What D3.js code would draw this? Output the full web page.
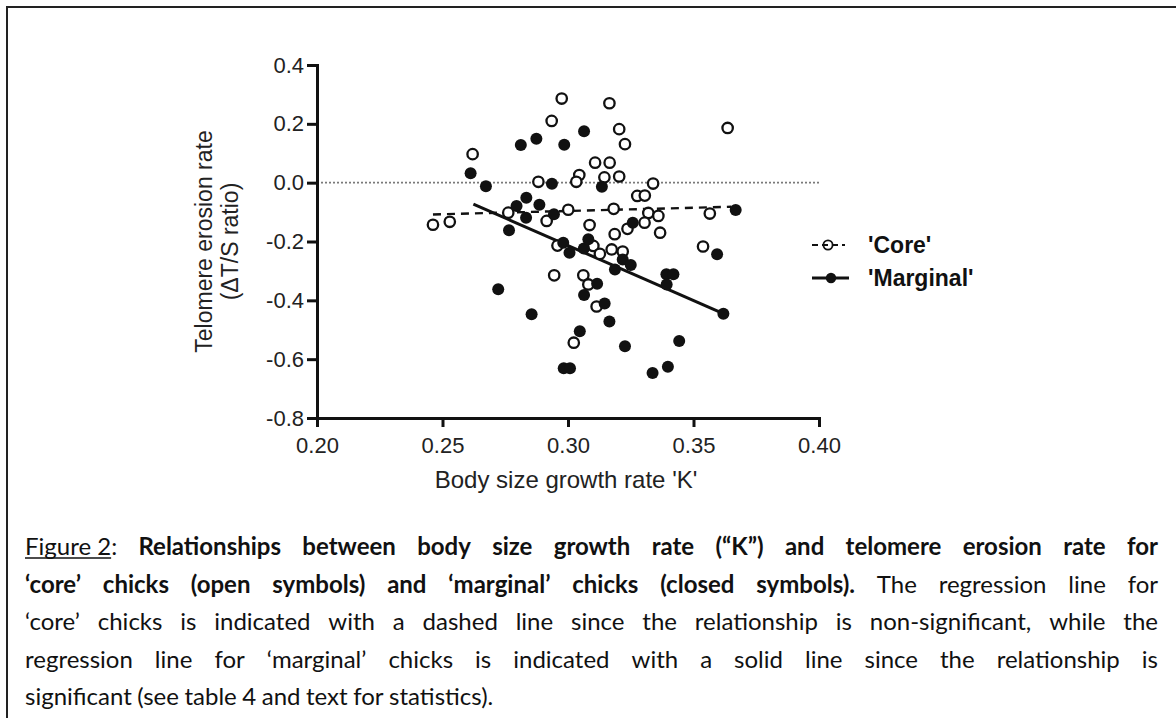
<!DOCTYPE html>
<html>
<head>
<meta charset="utf-8">
<script src="https://cdn.jsdelivr.net/npm/d3@7"></script>
<style>
  html, body { margin: 0; padding: 0; background: #fff; }
  svg { display: block; }
</style>
</head>
<body>
<svg id="fig" width="1176" height="718"></svg>
<script>
// Body size growth rate K and telomere erosion rate (ΔT/S ratio) per chick
const coreK = [0.2975, 0.2935, 0.3165, 0.3204, 0.3227, 0.3636, 0.2620, 0.3108, 0.3166, 0.3045,
  0.3033, 0.3145, 0.3204, 0.2882, 0.3339, 0.3276, 0.3306, 0.2462, 0.2529, 0.2762,
  0.2915, 0.3001, 0.3182, 0.3565, 0.3320, 0.3360, 0.3305, 0.3086, 0.3237, 0.3186,
  0.3367, 0.3538, 0.2958, 0.3101, 0.3127, 0.3174, 0.3218, 0.2945, 0.3061, 0.3081,
  0.3114, 0.3023];
const coreTS = [0.286, 0.210, 0.270, 0.182, 0.131, 0.186, 0.097, 0.068, 0.068, 0.026,
  0.003, 0.018, 0.021, 0.003, -0.003, -0.045, -0.044, -0.143, -0.133, -0.102,
  -0.130, -0.092, -0.089, -0.105, -0.103, -0.113, -0.136, -0.144, -0.157, -0.175,
  -0.170, -0.217, -0.214, -0.215, -0.242, -0.227, -0.234, -0.315, -0.315, -0.346,
  -0.421, -0.544];

const marginalK = [0.3064, 0.2874, 0.2812, 0.2985, 0.2612, 0.2673, 0.2936, 0.3135, 0.2834, 0.2795,
  0.2886, 0.2833, 0.2944, 0.2765, 0.2981, 0.3668, 0.3258, 0.3594, 0.3006, 0.3063,
  0.3081, 0.3187, 0.3218, 0.3250, 0.3392, 0.3420, 0.3393, 0.3116, 0.3064, 0.3146,
  0.2722, 0.2855, 0.3165, 0.3047, 0.3227, 0.3443, 0.2983, 0.3008, 0.3337, 0.3398,
  0.3619];
const marginalTS = [0.175, 0.149, 0.128, 0.129, 0.032, -0.012, -0.004, -0.014, -0.051, -0.079,
  -0.075, -0.119, -0.107, -0.162, -0.204, -0.093, -0.136, -0.243, -0.238, -0.224,
  -0.192, -0.295, -0.261, -0.280, -0.311, -0.311, -0.346, -0.344, -0.382, -0.411,
  -0.362, -0.447, -0.472, -0.505, -0.556, -0.538, -0.631, -0.631, -0.647, -0.626,
  -0.446];

// Regression lines, given by their end points
const coreFitK = [0.2462, 0.3650];
const coreFitTS = [-0.108, -0.082];
const marginalFitK = [0.2623, 0.3619];
const marginalFitTS = [-0.073, -0.445];

const xTicks = [0.20, 0.25, 0.30, 0.35, 0.40];
const yTicks = [0.4, 0.2, 0.0, -0.2, -0.4, -0.6, -0.8];
const seriesNames = ["'Core'", "'Marginal'"];
const xTitle = "Body size growth rate 'K'";
const yTitleLines = ["Telomere erosion rate", "(\u0394T/S ratio)"];

// Caption: each line is a list of [style, text] runs (u = underlined, b = bold, n = normal)
const captionLines = [
  [["u", "Figure 2"], ["n", ": "], ["b", "Relationships between body size growth rate (\u201cK\u201d) and telomere erosion rate for"]],
  [["b", "\u2018core\u2019 chicks (open symbols) and \u2018marginal\u2019 chicks (closed symbols)."], ["n", " The regression line for"]],
  [["n", "\u2018core\u2019 chicks is indicated with a dashed line since the relationship is non-significant, while the"]],
  [["n", "regression line for \u2018marginal\u2019 chicks is indicated with a solid line since the relationship is"]],
  [["n", "significant (see table 4 and text for statistics)."]]
];

const svg = d3.select("#fig");
const chartFont = "'Liberation Sans', Arial, Helvetica, sans-serif";
const ink = "#111";

// page frame (top and left rule)
svg.append("path")
  .attr("d", "M7,718V7H1176")
  .attr("fill", "none").attr("stroke", "#222").attr("stroke-width", 2);

const x = d3.scaleLinear().domain([0.2, 0.4]).range([317, 819]);
const y = d3.scaleLinear().domain([-0.8, 0.4]).range([418, 65]);

// zero reference line
svg.append("line")
  .attr("x1", x(0.2)).attr("x2", x(0.4))
  .attr("y1", y(0)).attr("y2", y(0))
  .attr("stroke", "#7a7a7a").attr("stroke-width", 1.6)
  .attr("stroke-dasharray", "2,2");

// axes
const gx = svg.append("g")
  .attr("transform", `translate(0,${y(-0.8)})`)
  .call(d3.axisBottom(x).tickValues(xTicks).tickFormat(d => d.toFixed(2))
    .tickSize(9).tickSizeOuter(0).tickPadding(10));
const gy = svg.append("g")
  .attr("transform", `translate(${x(0.2)},0)`)
  .call(d3.axisLeft(y).tickValues(yTicks).tickFormat(d => d.toFixed(1))
    .tickSize(10).tickSizeOuter(0).tickPadding(3));
[gx, gy].forEach(g => {
  g.attr("font-family", chartFont).attr("font-size", 22).attr("color", ink);
  g.select(".domain").attr("stroke-width", 3).attr("stroke-linecap", "square");
  g.selectAll(".tick line").attr("stroke-width", 3);
  g.selectAll(".tick text").attr("fill", "#222");
});

// axis titles
svg.append("text")
  .attr("x", (x(0.2) + x(0.4)) / 2 - 2).attr("y", 488)
  .attr("text-anchor", "middle")
  .attr("font-family", chartFont).attr("font-size", 24).attr("fill", "#222")
  .text(xTitle);
const yTitle = svg.append("text")
  .attr("transform", `translate(212,${(y(0.4) + y(-0.8)) / 2}) rotate(-90)`)
  .attr("text-anchor", "middle")
  .attr("font-family", chartFont).attr("font-size", 23).attr("fill", "#222");
yTitleLines.forEach((t, i) => {
  yTitle.append("tspan").attr("x", 0).attr("dy", i === 0 ? 0 : 26).text(t);
});

// regression lines
const fitLine = d3.line().x(d => x(d[0])).y(d => y(d[1]));
svg.append("path")
  .attr("d", fitLine(d3.zip(coreFitK, coreFitTS)))
  .attr("fill", "none").attr("stroke", ink).attr("stroke-width", 2.4)
  .attr("stroke-dasharray", "8,6");
svg.append("path")
  .attr("d", fitLine(d3.zip(marginalFitK, marginalFitTS)))
  .attr("fill", "none").attr("stroke", ink).attr("stroke-width", 3);

// points: open circles for core, filled for marginal
svg.append("g").selectAll("circle")
  .data(d3.zip(coreK, coreTS))
  .join("circle")
  .attr("cx", d => x(d[0])).attr("cy", d => y(d[1]))
  .attr("r", 5.2)
  .attr("fill", "#fff").attr("stroke", ink).attr("stroke-width", 2.3);
svg.append("g").selectAll("circle")
  .data(d3.zip(marginalK, marginalTS))
  .join("circle")
  .attr("cx", d => x(d[0])).attr("cy", d => y(d[1]))
  .attr("r", 6)
  .attr("fill", ink);

// legend
const legend = svg.append("g").attr("font-family", chartFont).attr("font-weight", "bold")
  .attr("font-size", 23).attr("fill", ink);
const legendRows = [
  { name: seriesNames[0], cy: 245, dash: "6,4", open: true },
  { name: seriesNames[1], cy: 278, dash: null, open: false }
];
legendRows.forEach(r => {
  legend.append("line")
    .attr("x1", 812).attr("x2", r.open ? 845 : 849)
    .attr("y1", r.cy).attr("y2", r.cy)
    .attr("stroke", ink).attr("stroke-width", r.open ? 2 : 3)
    .attr("stroke-dasharray", r.dash);
  legend.append("circle")
    .attr("cx", r.open ? 828 : 831).attr("cy", r.cy)
    .attr("r", r.open ? 4.6 : 5.2)
    .attr("fill", r.open ? "none" : ink)
    .attr("stroke", ink).attr("stroke-width", r.open ? 1.8 : 0);
  legend.append("text")
    .attr("x", 868).attr("y", r.cy + 8)
    .text(r.name);
});

// caption, justified between the margins
const capFont = "Lato, 'Open Sans', sans-serif";
const capSize = 24;
const capLeft = 25, capRight = 1158;
const capTop = 555, capStep = 37.5;

function tokenize(runs) {
  const tokens = [];
  let cur = [];
  runs.forEach(([style, text]) => {
    let buf = "";
    for (const ch of text) {
      if (ch === " ") {
        if (style === "u" && buf.length) { buf += ch; continue; }
        if (buf) cur.push([style, buf]);
        buf = "";
        if (cur.length) tokens.push(cur);
        cur = [];
      } else {
        buf += ch;
      }
    }
    if (buf) cur.push([style, buf]);
  });
  if (cur.length) tokens.push(cur);
  return tokens;
}

const cap = svg.append("g").attr("font-family", capFont).attr("font-size", capSize).attr("fill", "#111");
captionLines.forEach((runs, li) => {
  const baseY = capTop + li * capStep;
  const tokens = tokenize(runs);
  const items = tokens.map(segs => {
    const t = cap.append("text").attr("y", baseY);
    segs.forEach(([style, str]) => {
      t.append("tspan")
        .attr("font-weight", style === "b" ? "bold" : "normal")
        .attr("data-style", style)
        .text(str);
    });
    return { node: t.node(), w: t.node().getComputedTextLength() };
  });
  const total = d3.sum(items, d => d.w);
  const justify = li < captionLines.length - 1;
  const gap = justify ? (capRight - capLeft - total) / (items.length - 1) : capSize * 0.23;
  let xPos = capLeft;
  items.forEach(it => {
    d3.select(it.node).attr("x", xPos);
    // underline any underlined span
    let off = 0;
    d3.select(it.node).selectAll("tspan").each(function () {
      const w = this.getComputedTextLength();
      if (this.getAttribute("data-style") === "u") {
        cap.append("line")
          .attr("x1", xPos + off).attr("x2", xPos + off + w)
          .attr("y1", baseY + 3).attr("y2", baseY + 3)
          .attr("stroke", "#111").attr("stroke-width", 1.3);
      }
      off += w;
    });
    xPos += it.w + gap;
  });
});
</script>
</body>
</html>
